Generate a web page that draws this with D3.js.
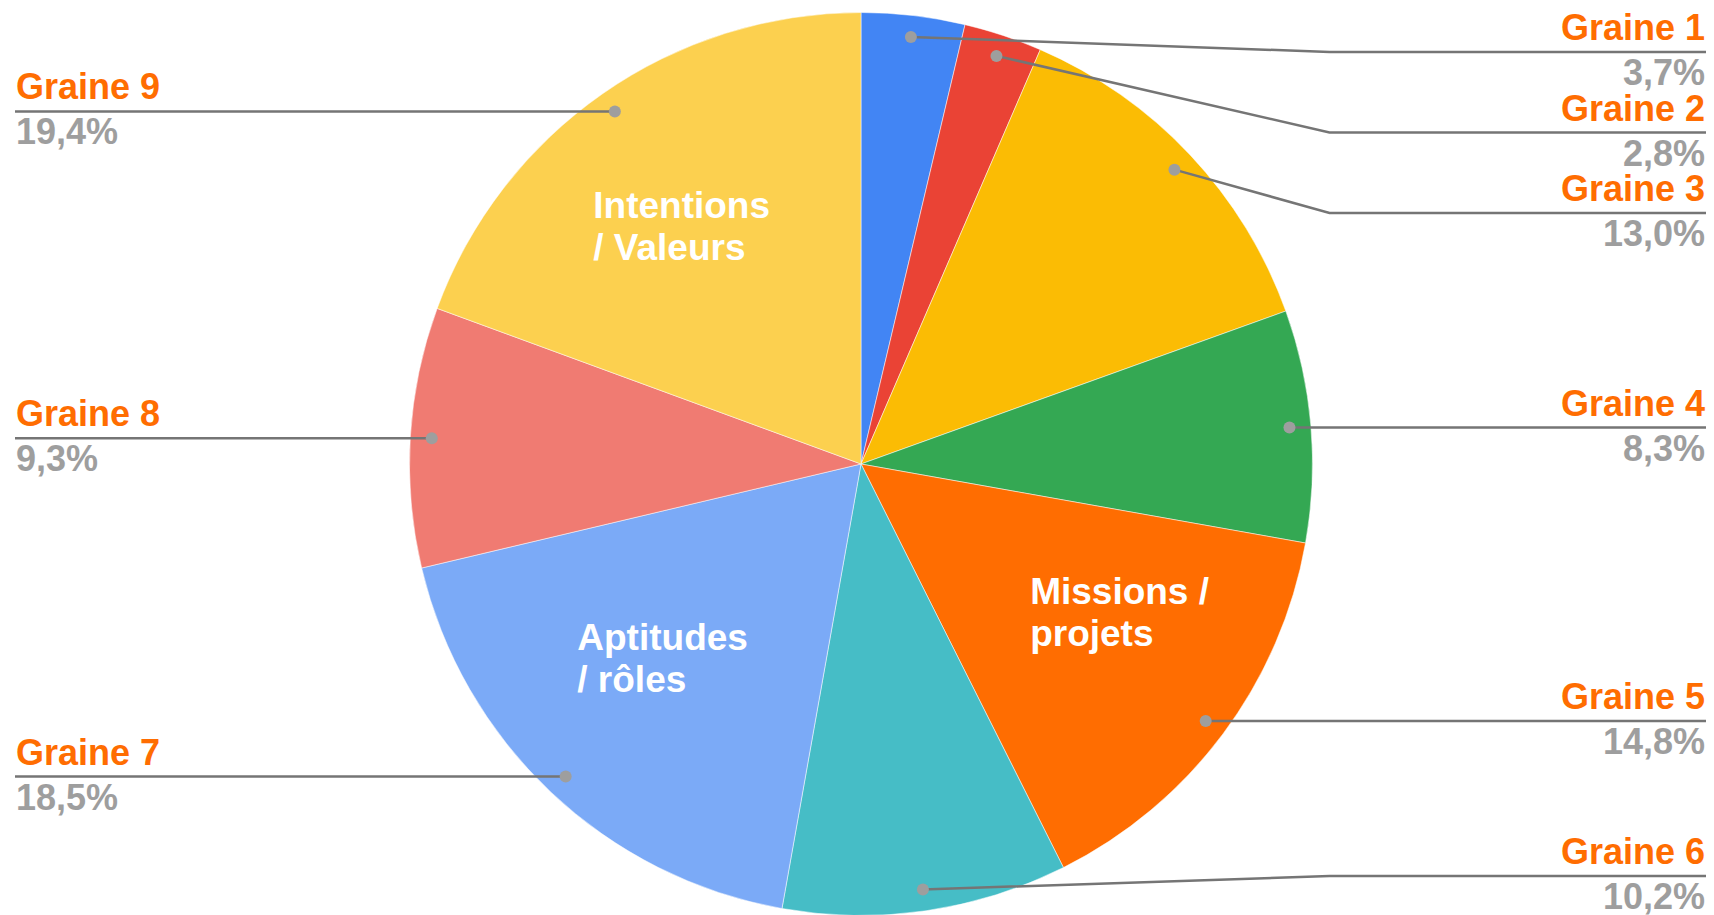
<!DOCTYPE html>
<html>
<head>
<meta charset="utf-8">
<script src="https://cdn.jsdelivr.net/npm/d3@7"></script>
<style>
  html, body { margin: 0; padding: 0; background: #ffffff; }
  svg { display: block; }
  text { font-family: "Liberation Sans", Arial, Helvetica, sans-serif; font-weight: bold; }
</style>
</head>
<body>
<svg id="chart" width="1714" height="915"></svg>
<script>
// ---- data ----
const categories = ["Graine 1", "Graine 2", "Graine 3", "Graine 4", "Graine 5", "Graine 6", "Graine 7", "Graine 8", "Graine 9"];
const values = [3.7, 2.8, 13.0, 8.3, 14.8, 10.2, 18.5, 9.3, 19.4];
const percentLabels = ["3,7%", "2,8%", "13,0%", "8,3%", "14,8%", "10,2%", "18,5%", "9,3%", "19,4%"];
const sliceColors = ["#4285F4", "#EA4335", "#FBBC04", "#34A853", "#FF6D01", "#46BDC6", "#7BAAF7", "#F07B72", "#FCD04F"];
const groupNames = [["Intentions", "/ Valeurs"], ["Missions /", "projets"], ["Aptitudes", "/ rôles"]];
const groupSlice = ["Graine 9", "Graine 5", "Graine 7"];

// ---- layout ----
const W = 1714, H = 915;
const cx = 861, cy = 464, R = 451.5;
const dotR = 430;
const elbowGap = 17;
const labelSpacing = 80.5;
const labelTop = 52, labelBottom = 876;
const rightX = 1705, leftX = 16;
const groupLayout = [ {angle: 323, rad: 0.66}, {angle: 119.8, rad: 0.66}, {angle: 225.6, rad: 0.615} ];

const svg = d3.select("#chart");
svg.append("rect").attr("width", W).attr("height", H).attr("fill", "#ffffff");
const g = svg.append("g").attr("transform", `translate(${cx},${cy})`);

const data = categories.map((c, i) => ({name: c, value: values[i], pct: percentLabels[i], color: sliceColors[i]}));
const pie = d3.pie().sort(null).value(d => d.value).startAngle(0).endAngle(2 * Math.PI);
const arcs = pie(data);
const arc = d3.arc().innerRadius(0).outerRadius(R);

g.selectAll("path.slice").data(arcs).join("path")
  .attr("class", "slice")
  .attr("d", arc)
  .attr("fill", d => d.data.color)
  .attr("stroke", "#ffffff")
  .attr("stroke-width", 0.5);

// dots and label y positions
arcs.forEach(a => {
  a.mid = (a.startAngle + a.endAngle) / 2;
  a.dx = dotR * Math.sin(a.mid);
  a.dy = -dotR * Math.cos(a.mid);
  a.side = a.dx >= 0 ? "right" : "left";
  a.ly = a.dy + cy;
});
["right", "left"].forEach(side => {
  const list = arcs.filter(a => a.side === side).sort((a, b) => a.ly - b.ly);
  let prev = -Infinity;
  list.forEach(a => {
    a.ly = Math.max(a.ly, labelTop, prev + labelSpacing);
    prev = a.ly;
  });
  let next = Infinity;
  for (let i = list.length - 1; i >= 0; i--) {
    const a = list[i];
    a.ly = Math.min(a.ly, labelBottom, next - labelSpacing);
    next = a.ly;
  }
});

const lineG = svg.append("g");
arcs.forEach(a => {
  const px = cx + a.dx, py = cy + a.dy;
  let pts;
  if (a.side === "right") {
    const ex = cx + R + elbowGap;
    pts = [[px, py], [ex, a.ly], [rightX + 1, a.ly]];
  } else {
    const ex = cx - R - elbowGap;
    pts = [[px, py], [ex, a.ly], [leftX - 1, a.ly]];
  }
  lineG.append("path")
    .attr("d", d3.line()(pts))
    .attr("fill", "none")
    .attr("stroke", "#757575")
    .attr("stroke-width", 2.5);
  lineG.append("circle")
    .attr("cx", px).attr("cy", py).attr("r", 6)
    .attr("fill", "#9E9E9E");
  const tx = a.side === "right" ? rightX : leftX;
  const anchor = a.side === "right" ? "end" : "start";
  lineG.append("text")
    .attr("x", tx).attr("y", a.ly - 12)
    .attr("text-anchor", anchor)
    .attr("font-size", 36)
    .attr("fill", "#FF6D01")
    .text(a.data.name);
  lineG.append("text")
    .attr("x", tx).attr("y", a.ly + 33)
    .attr("text-anchor", anchor)
    .attr("font-size", 36)
    .attr("fill", "#9E9E9E")
    .text(a.data.pct);
});

// group labels inside slices (left-aligned block centred on a polar point)
groupNames.forEach((lines, i) => {
  const lay = groupLayout[i];
  const ang = lay.angle * Math.PI / 180;
  const bx = cx + lay.rad * R * Math.sin(ang);
  const by = cy - lay.rad * R * Math.cos(ang);
  const t = svg.append("text")
    .attr("font-size", 37)
    .attr("fill", "#ffffff");
  const spans = lines.map((ln, j) =>
    t.append("tspan").attr("x", bx).attr("y", by - 8.5 + j * 42).text(ln));
  const w = d3.max(spans, s => s.node().getComputedTextLength());
  t.selectAll("tspan").attr("x", bx - w / 2);
});
</script>
</body>
</html>
